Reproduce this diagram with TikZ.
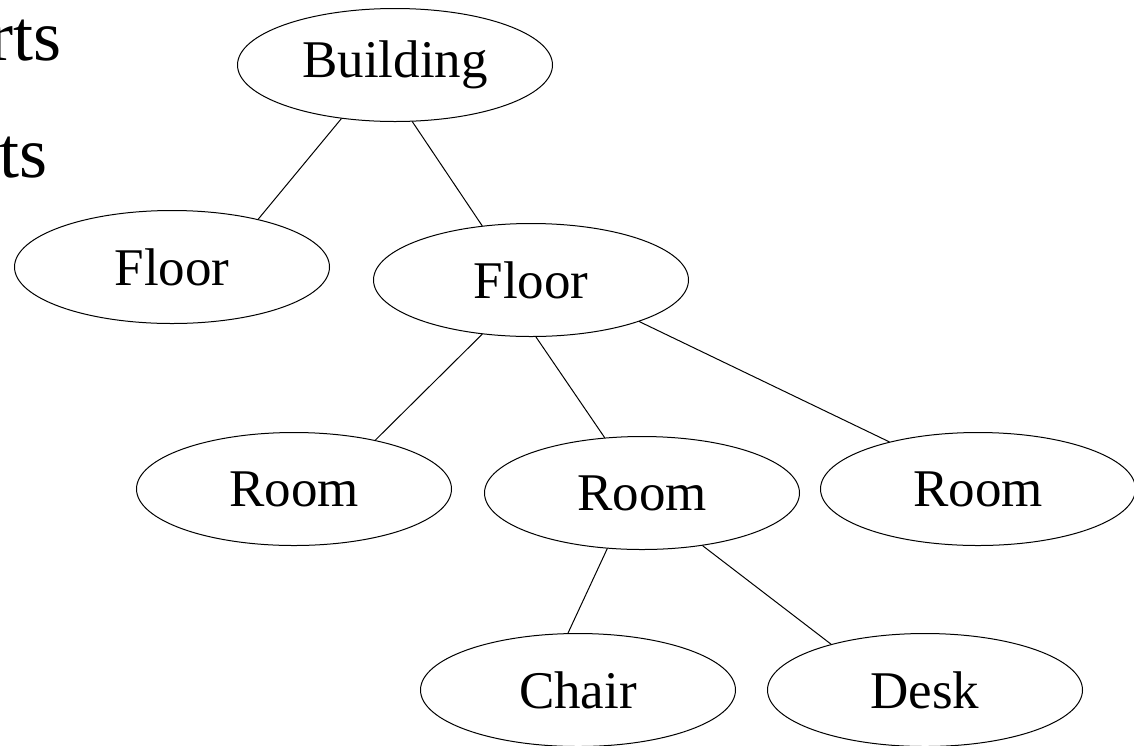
\documentclass[tikz,border=0pt]{standalone}
\usepackage{fontspec}
\setmainfont{Liberation Serif}
\usetikzlibrary{shapes.geometric}
\begin{document}
\begin{tikzpicture}[x=0.5pt, y=-0.5pt, line join=round, line cap=round]
			\tikzset{el/.style={draw=black,ellipse,minimum width=157.5pt,minimum height=56.5pt,inner sep=0pt,line width=0.5pt,font=\fontsize{26.5}{30}\selectfont},
				big/.style={anchor=base east,inner sep=0pt,font=\fontsize{36}{40}\selectfont}}
			\useasboundingbox (0,0) rectangle (1134,745);
			\path(62,60)node[big](w1){rts}(48,177)node[big](w2){ts};
			\path(395,65)node[el](bldg){Building};
			\path(172,267)node[el](flA){Floor}(531,280)node[el](flB){Floor};
			\path(294,489)node[el](rmA){Room}(642,493)node[el](rmB){Room}(978,489)node[el](rmC){Room};
			\path(578,690)node[el](chair){Chair}(925,690)node[el](desk){Desk};
			\foreach \x/\y in {
				bldg.225/flA.29,bldg.287/flB.132,
				flB.228/rmA.31,flB.275/rmB.124,flB.339/rmC.152,
				rmB.238/chair.100,rmB.319/desk.154}
			\draw[line width=0.5pt](\x)--(\y);
		\end{tikzpicture}
\end{document}
